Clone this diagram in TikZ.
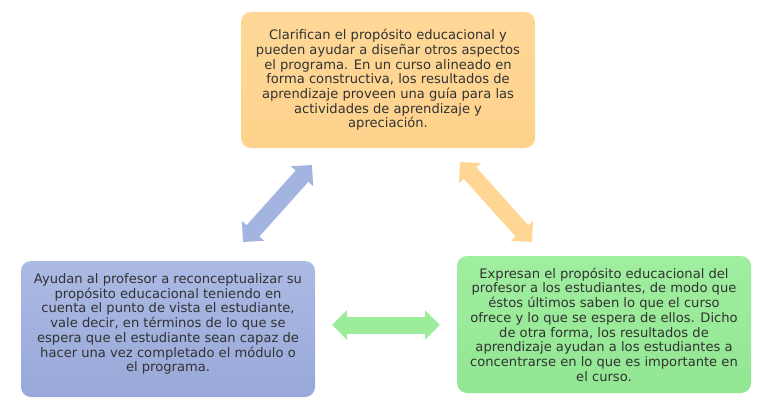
\documentclass[tikz,border=0pt]{standalone}
\usepackage{fontspec}
\setmainfont{DejaVu Sans}
\usetikzlibrary{arrows.meta}
\definecolor{orfill}{RGB}{255,216,152}
\definecolor{orfillb}{RGB}{253,210,140}
\definecolor{blfill}{RGB}{172,186,228}
\definecolor{blfillb}{RGB}{152,168,216}
\definecolor{grfill}{RGB}{160,238,160}
\definecolor{grfillb}{RGB}{146,230,146}
\definecolor{txt}{RGB}{50,50,50}
\definecolor{blarrow}{RGB}{164,180,224}
\definecolor{orarrow}{RGB}{255,214,148}
\definecolor{grarrow}{RGB}{156,236,156}
\tikzset{
  boxtext/.style={text=txt, align=center, font=\fontsize{13.1}{14.7}\selectfont, inner sep=0pt},
  box/.style={boxtext, rounded corners=10pt, minimum width=294pt},
  blockarrow/.style={line width=17pt, {Triangle[length=15pt,width=29pt]}-{Triangle[length=15pt,width=29pt]}}
}
\begin{document}
\begin{tikzpicture}[x=1pt,y=-1pt]
\useasboundingbox (0,0) rectangle (759,409);
\node[box, minimum height=136pt, top color=orfill, bottom color=orfillb] (top) at (388,80)
 {Clarifican el propósito educacional y\\pueden ayudar a diseñar otros aspectos\\el programa. En un curso alineado en\\forma constructiva, los resultados de\\aprendizaje proveen una guía para las\\actividades de aprendizaje y\\apreciación.};
\node[box, minimum height=136pt, top color=blfill, bottom color=blfillb] (left) at (168,329) {};
\node[boxtext] (lefttext) at (168,324)
 {Ayudan al profesor a reconceptualizar su\\propósito educacional teniendo en\\cuenta el punto de vista el estudiante,\\vale decir, en términos de lo que se\\espera que el estudiante sean capaz de\\hacer una vez completado el módulo o\\el programa.};
\node[box, minimum height=137pt, top color=grfill, bottom color=grfillb] (right) at (604,324.5)
 {Expresan el propósito educacional del\\profesor a los estudiantes, de modo que\\éstos últimos saben lo que el curso\\ofrece y lo que se espera de ellos. Dicho\\de otra forma, los resultados de\\aprendizaje ayudan a los estudiantes a\\concentrarse en lo que es importante en\\el curso.};
\coordinate (b1) at (243,242);
\coordinate (b2) at (312,165);
\coordinate (o1) at (460,162);
\coordinate (o2) at (532,242);
\coordinate (g1) at (332,325);
\coordinate (g2) at (440,325);
\draw[blockarrow, draw=blarrow, fill=blarrow] (b1) -- (b2);
\draw[blockarrow, draw=orarrow, fill=orarrow] (o1) -- (o2);
\draw[blockarrow, draw=grarrow, fill=grarrow] (g1) -- (g2);
\end{tikzpicture}
\end{document}
